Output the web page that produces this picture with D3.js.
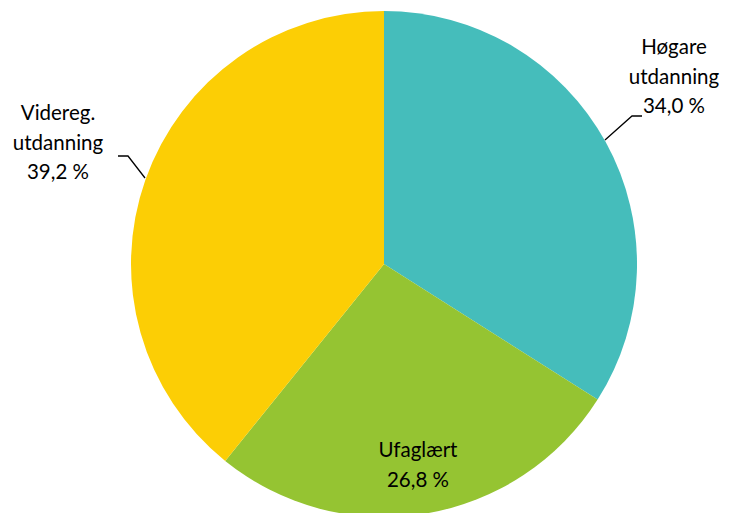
<!DOCTYPE html>
<html><head><meta charset="utf-8">
<script src="https://cdn.jsdelivr.net/npm/d3@7"></script>
<style>html,body{margin:0;padding:0;background:#fff;}svg{display:block;}</style>
</head><body>
<svg id="c" width="732" height="513"></svg>
<script>
const categories = ["Høgare utdanning", "Ufaglært", "Videreg. utdanning"];
const values = [34.0, 26.8, 39.2];
const labelLines = [["Høgare", "utdanning", "34,0 %"], ["Ufaglært", "26,8 %"], ["Videreg.", "utdanning", "39,2 %"]];
const colors = ["#45BDBB", "#95C432", "#FCCE05"];

const svg = d3.select("#c");
const cx = 384, cy = 264, r = 253;
const g = svg.append("g").attr("transform", `translate(${cx},${cy})`);
const pie = d3.pie().sort(null).value(d => d)(values);
const arc = d3.arc().innerRadius(0).outerRadius(r);
g.selectAll("path").data(pie).enter().append("path")
  .attr("d", arc).attr("fill", (d, i) => colors[i]);

// label placements (layout, not data)
const labelPos = [{x: 674, y: 47}, {x: 418, y: 450}, {x: 58, y: 113}];
const lh = 29.5;
labelLines.forEach((lines, i) => {
  const t = svg.append("text").attr("text-anchor", "middle")
    .attr("font-family", "Lato, 'Open Sans', sans-serif").attr("font-size", 20.5).attr("fill", "#000");
  lines.forEach((s, j) => {
    t.append("tspan").attr("x", labelPos[i].x).attr("y", labelPos[i].y + j * lh).attr("dy", "0.35em").text(s);
  });
});
// leader lines
const leaders = [[[605, 140], [632, 116], [642, 116]], [[145, 178], [128, 156], [118, 156]]];
leaders.forEach(pts => {
  svg.append("path").attr("d", d3.line()(pts)).attr("fill", "none").attr("stroke", "#000").attr("stroke-width", 1.3);
});
</script>
</body></html>
